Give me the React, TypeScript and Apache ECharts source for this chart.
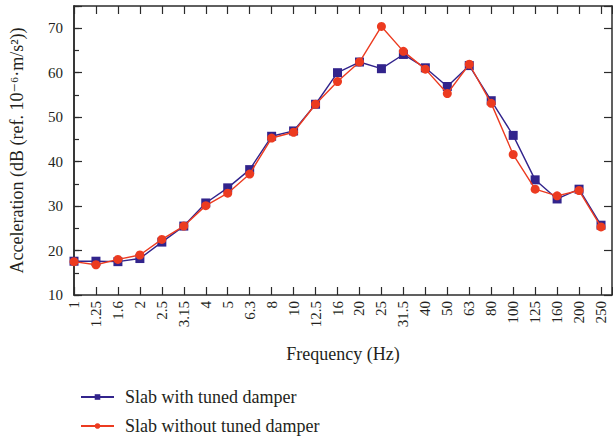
import React, { useEffect, useRef } from "react";
import * as echarts from "echarts";

const categories = ["1", "1.25", "1.6", "2", "2.5", "3.15", "4", "5", "6.3", "8", "10", "12.5", "16", "20", "25", "31.5", "40", "50", "63", "80", "100", "125", "160", "200", "250"];
const withDamper = [17.6, 17.6, 17.5, 18.2, 21.9, 25.5, 30.7, 34.1, 38.2, 45.7, 46.9, 52.9, 60.0, 62.4, 60.9, 64.1, 61.1, 56.9, 61.6, 53.7, 45.9, 35.9, 31.6, 33.8, 25.7];
const withoutDamper = [17.5, 16.8, 18.0, 19.0, 22.5, 25.5, 30.1, 32.9, 37.2, 45.3, 46.6, 52.9, 58.0, 62.4, 70.4, 64.8, 60.8, 55.3, 61.9, 53.1, 41.6, 33.8, 32.3, 33.5, 25.3];
const yTicks = [10, 20, 30, 40, 50, 60, 70];

const FONT = "'Liberation Serif', 'DejaVu Serif', serif";
const TXT = "#231f20";
const AX = "#2b2b2b";
const BLUE = "#32248c";
const RED = "#ec3b20";

export default function App() {
  const ref = useRef<HTMLDivElement>(null);
  useEffect(() => {
    if (!ref.current) return;
    const chart = echarts.init(ref.current, null, { renderer: "svg" });
    const axisLine = { show: true, lineStyle: { color: AX, width: 1.5 } };
    const xCommon = {
      type: "value" as const,
      min: 0,
      max: categories.length - 0.5,
      interval: 1,
      splitLine: { show: false },
      axisLine,
    };
    const yCommon = {
      type: "value" as const,
      min: 10,
      max: 75,
      splitLine: { show: false },
      axisLine,
    };
    chart.setOption({
      animation: false,
      textStyle: { fontFamily: FONT, color: TXT },
      grid: { left: 69, right: 1, top: 6, bottom: 145 },
      legend: {
        orient: "vertical",
        left: 80,
        top: 388,
        height: 50,
        padding: 0,
        itemWidth: 33,
        itemHeight: 7,
        itemGap: 11,
        textStyle: { fontFamily: FONT, fontSize: 18, lineHeight: 18, color: TXT, padding: [0, 0, 0, 6] },
        data: ["Slab with tuned damper", "Slab without tuned damper"],
      },
      xAxis: [
        {
          ...xCommon,
          position: "bottom",
          name: "Frequency (Hz)",
          nameLocation: "middle",
          nameGap: 50,
          nameTextStyle: { fontFamily: FONT, fontSize: 18, color: TXT },
          axisTick: { show: true, inside: true, length: 8, lineStyle: { color: AX, width: 1.2 } },
          axisLabel: {
            show: true,
            rotate: 90,
            margin: 6,
            fontFamily: FONT,
            fontSize: 15,
            color: TXT,
            showMaxLabel: true,
            formatter: (v: number) => (Number.isInteger(v) && categories[v] !== undefined ? categories[v] : ""),
          },
        },
        {
          ...xCommon,
          position: "top",
          axisTick: { show: true, inside: true, length: 8, lineStyle: { color: AX, width: 1.2 } },
          axisLabel: { show: false },
        },
      ],
      yAxis: [
        {
          ...yCommon,
          position: "left",
          interval: 10,
          name: "Acceleration (dB (ref. 10\u207B\u2076\u00B7m/s\u00B2))",
          nameLocation: "middle",
          nameGap: 48,
          nameTextStyle: { fontFamily: FONT, fontSize: 18, color: TXT },
          axisTick: { show: true, inside: true, length: 8, lineStyle: { color: AX, width: 1.2 } },
          axisLabel: {
            show: true,
            margin: 11,
            fontFamily: FONT,
            fontSize: 15,
            color: TXT,
            formatter: (v: number) => (yTicks.includes(v) ? String(v) : ""),
          },
        },
        {
          ...yCommon,
          position: "left",
          interval: 5,
          axisTick: { show: true, inside: true, length: 5, lineStyle: { color: AX, width: 1.2 } },
          axisLabel: { show: false },
        },
        {
          ...yCommon,
          position: "right",
          interval: 10,
          axisTick: { show: true, inside: true, length: 8, lineStyle: { color: AX, width: 1.2 } },
          axisLabel: { show: false },
        },
      ],
      series: [
        {
          name: "Slab with tuned damper",
          type: "line",
          xAxisIndex: 0,
          yAxisIndex: 0,
          data: withDamper.map((v, i) => [i, v]),
          symbol: "rect",
          symbolSize: 9,
          itemStyle: { color: BLUE },
          lineStyle: { color: BLUE, width: 1.4 },
          z: 2,
        },
        {
          name: "Slab without tuned damper",
          type: "line",
          xAxisIndex: 0,
          yAxisIndex: 0,
          data: withoutDamper.map((v, i) => [i, v]),
          symbol: "circle",
          symbolSize: 9,
          itemStyle: { color: RED },
          lineStyle: { color: RED, width: 1.4 },
          z: 3,
        },
      ],
    });
    return () => chart.dispose();
  }, []);
  return <div ref={ref} style={{ width: 613, height: 440, position: "absolute", left: 0, top: 0 }} />;
}
